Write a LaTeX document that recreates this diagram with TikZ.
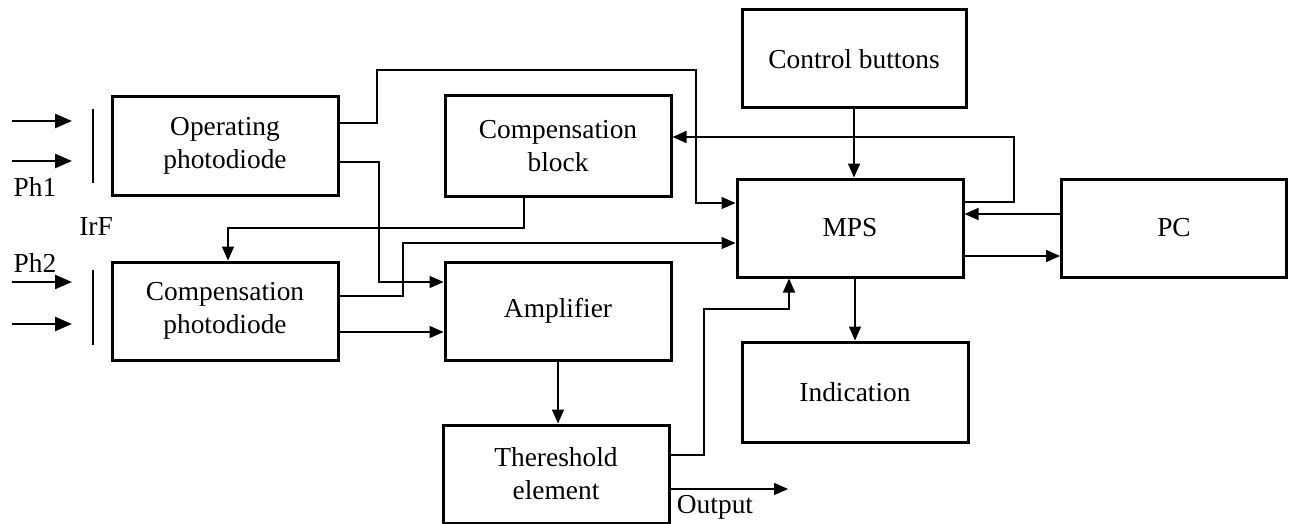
\documentclass[tikz,border=0pt]{standalone}
\usepackage{fontspec}
\setmainfont{Liberation Serif}
\usepackage{tikz}
\usetikzlibrary{arrows.meta,calc}

\begin{document}
\begin{tikzpicture}[x=0.5pt,y=-0.5pt,>={Triangle[length=7pt,width=6pt]},font=\fontsize{13.7}{16.5}\selectfont]
\tikzstyle{box}=[rectangle,draw,line width=1.5pt,align=center,minimum width=113pt,minimum height=49pt,inner sep=0pt]
\tikzstyle{wire}=[line width=0.75pt]
\tikzstyle{lbl}=[inner sep=0pt]
\useasboundingbox (0,0) rectangle (1294,524);
\node[lbl,font=\bfseries\fontsize{17}{19}\selectfont,anchor=base west] (head) at (147,-7) {p};
\node[box] (op) at (225,146) {Operating\\photodiode};
\node[box,minimum height=50pt] (cblk) at (558,146) {Compensation\\block};
\node[box] (cph) at (225,311) {Compensation\\photodiode};
\node[box] (amp) at (558,311) {Amplifier};
\node[box] (thr) at (556,474) {Thereshold\\element};
\node[box,minimum width=112pt] (ctrl) at (854,59) {Control buttons};
\node[box] (mps) at (850,228) {MPS};
\node[box,minimum width=112.5pt] (pc) at (1174,228) {PC};
\node[box,minimum height=50pt] (ind) at (855,392) {Indication};
\node[lbl] (ph1) at (35,187) {Ph1};
\node[lbl] (irf) at (96,227) {IrF};
\node[lbl] (ph2) at (35,263) {Ph2};
\node[lbl] (outl) at (715,507) {Output};
\coordinate (out) at (788,489);
\foreach \y in {121,161,282,324}
  \draw[-{Triangle[length=8.5pt,width=7pt]},line width=1.2pt] (12,\y) -- (72,\y);
\draw[line width=1.3pt] (93,109) -- (93,183);
\draw[line width=1.3pt] (93,270) -- (93,345);
\draw[wire,->] (op.east|-0,123) -- (377,123) -- (377,70) -- (696,70) -- (696,203) -- (mps.west|-0,203);
\draw[wire,->] (op.east|-0,162) -- (379,162) -- (379,282) -- (amp.west|-0,282);
\draw[wire,->] (cblk.south-|524,0) -- (524,228) -- (228,228) -- (cph.north-|228,0);
\draw[wire,->] (cph.east|-0,296) -- (403,296) -- (403,243) -- (mps.west|-0,243);
\draw[wire,->] (cph.east|-0,332) -- (amp.west|-0,332);
\draw[wire,->] (amp.south) -- (amp.south|-thr.north);
\draw[wire,->] (thr.east|-0,455) -- (704,455) -- (704,309) -- (789,309) -- (mps.south-|789,0);
\draw[wire,->] (thr.east|-0,489) -- (out);
\draw[wire,->] (ctrl.south) -- (ctrl.south|-mps.north);
\draw[wire,->] (mps.east|-0,202) -- (1014,202) -- (1014,137) -- (cblk.east|-0,137);
\draw[wire,->] (pc.west|-0,214) -- (mps.east|-0,214);
\draw[wire,->] (mps.east|-0,256) -- (pc.west|-0,256);
\draw[wire,->] (mps.south-|ind.north) -- (ind.north);
\end{tikzpicture}
\end{document}
